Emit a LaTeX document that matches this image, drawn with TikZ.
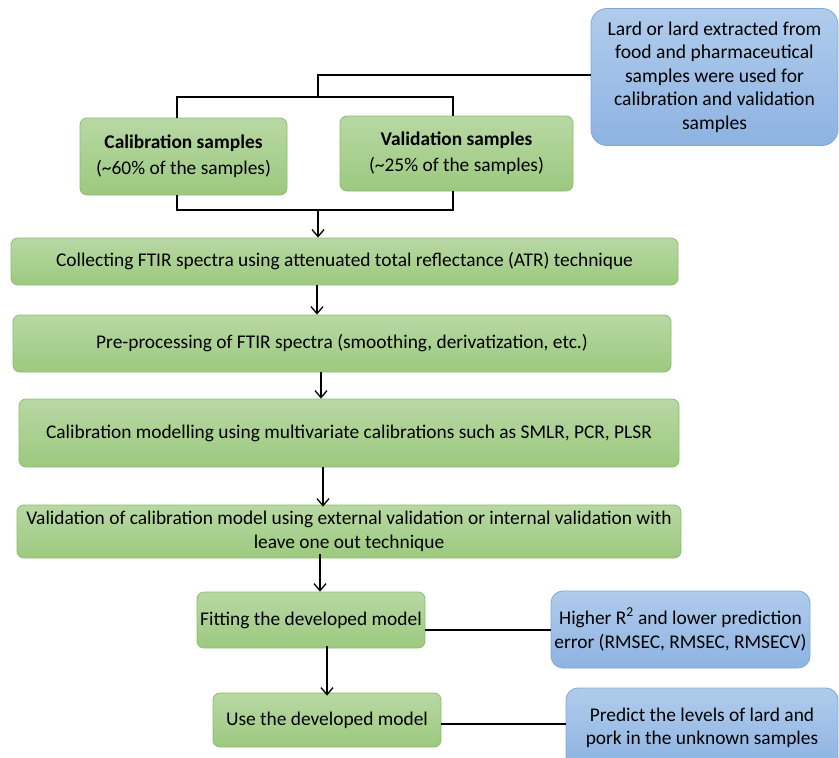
\documentclass[tikz,border=0pt]{standalone}
\usepackage{fontspec}
\setmainfont{Carlito}
\usetikzlibrary{arrows.meta}
\definecolor{gtop}{HTML}{B8D8A4}
\definecolor{gbot}{HTML}{9CC97E}
\definecolor{gline}{HTML}{8CBD6C}
\definecolor{btop}{HTML}{B0CCEC}
\definecolor{bbot}{HTML}{8DB3E2}
\definecolor{bline}{HTML}{7FA6D6}
\tikzset{
  greenbox/.style={draw=gline, line width=0.8pt, top color=gtop, bottom color=gbot, rounded corners=7pt, align=center, inner sep=0pt, font=\fontsize{19.4}{24}\selectfont},
  bluebox/.style={draw=bline, line width=0.8pt, top color=btop, bottom color=bbot, rounded corners=16pt, align=center, inner sep=0pt, font=\fontsize{19.4}{24.5}\selectfont},
  conn/.style={line width=1.8pt, black},
  arr/.style={line width=1.3pt, black, -{Straight Barb[length=7pt,width=12pt,line width=1.3pt]}}
}
\begin{document}
\begin{tikzpicture}[x=1pt,y=-1pt]
\useasboundingbox (0,0) rectangle (839,758);
% nodes
\node[bluebox, minimum width=247pt, minimum height=137pt, font=\fontsize{19.6}{23.4}\selectfont] (src) at (714.5,77) {Lard or lard extracted from\\food and pharmaceutical\\samples were used for\\calibration and validation\\samples};
\node[greenbox, minimum width=207pt, minimum height=77pt, font=\fontsize{19.4}{26}\selectfont] (cal) at (183.5,156.5) {\textbf{Calibration samples}\\(\textasciitilde60\% of the samples)};
\node[greenbox, minimum width=233pt, minimum height=75pt, font=\fontsize{19.4}{26}\selectfont] (val) at (456.5,153.5) {\textbf{Validation samples}\\(\textasciitilde25\% of the samples)};
\node[greenbox, minimum width=667pt, minimum height=47pt] (col) at (344.5,261.5) {Collecting FTIR spectra using attenuated total reflectance (ATR) technique};
\node[greenbox, minimum width=658pt, minimum height=57pt] (pre) at (342,343.5) {Pre-processing of FTIR spectra (smoothing, derivatization, etc.)};
\node[greenbox, minimum width=660pt, minimum height=68pt] (mod) at (349,433) {Calibration modelling using multivariate calibrations such as SMLR, PCR, PLSR};
\node[greenbox, minimum width=664pt, minimum height=53pt] (vmod) at (349,531.5) {Validation of calibration model using external validation or internal validation with\\leave one out technique};
\node[greenbox, minimum width=228pt, minimum height=56pt] (fit) at (311,620) {Fitting the developed model};
\node[bluebox, minimum width=259pt, minimum height=77pt, rounded corners=12pt] (hr) at (680.5,629.5) {Higher R\textsuperscript{2} and lower prediction\\error (RMSEC, RMSEC, RMSECV)};
\node[greenbox, minimum width=228pt, minimum height=54pt] (use) at (327,720) {Use the developed model};
\node[bluebox, minimum width=272pt, minimum height=80pt, rounded corners=12pt, font=\fontsize{19.4}{23}\selectfont] (pred) at (702,728) {Predict the levels of lard and\\pork in the unknown samples};
% connectors top
\coordinate (j1) at (318,75);
\coordinate (j2) at (318,97);
\coordinate (jl) at (177,97);
\coordinate (jr) at (453,97);
\draw[conn] (src.west |- j1) -- (j1) -- (j2);
\draw[conn] (cal.north -| jl) -- (jl) -- (jr) -- (val.north -| jr);
\coordinate (bl) at (177,210);
\coordinate (br) at (453,210);
\coordinate (bm) at (318,210);
\draw[conn] (cal.south -| bl) -- (bl) -- (br) -- (val.south -| br);
\draw[arr] (bm) -- (col.north -| bm);
\coordinate (a1) at (317,0);
\draw[arr] (col.south -| a1) -- (pre.north -| a1);
\coordinate (a2) at (321,0);
\draw[arr] (pre.south -| a2) -- (mod.north -| a2);
\coordinate (a3) at (323,0);
\draw[arr] (mod.south -| a3) -- ([yshift=-2pt]vmod.north -| a3);
\coordinate (a4) at (320,0);
\draw[arr] ([yshift=4pt]vmod.south -| a4) -- (fit.north -| a4);
\coordinate (a5) at (327,0);
\draw[arr] ([yshift=2pt]fit.south -| a5) -- ([yshift=-3pt]use.north -| a5);
\coordinate (h1) at (0,630);
\draw[conn] (fit.east |- h1) -- (hr.west |- h1);
\coordinate (h2) at (0,724);
\draw[conn] (use.east |- h2) -- (pred.west |- h2);
\end{tikzpicture}
\end{document}
